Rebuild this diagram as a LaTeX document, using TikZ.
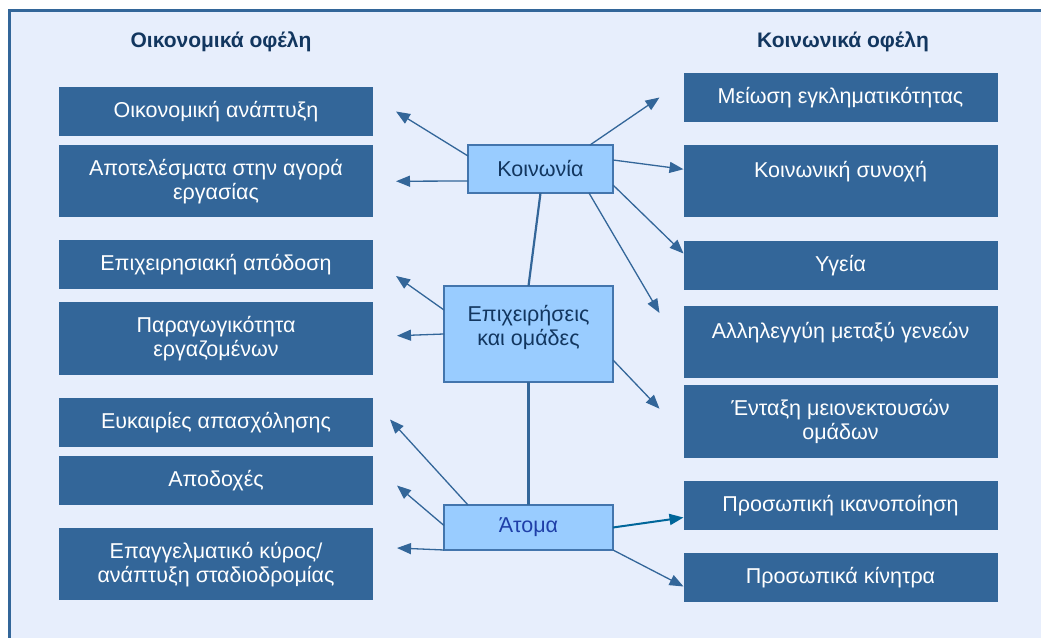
\documentclass[tikz,border=0pt]{standalone}
\usepackage{fontspec}
\setmainfont{Liberation Sans}
\usetikzlibrary{positioning,arrows.meta}
\definecolor{boxblue}{HTML}{336699}
\definecolor{hubfill}{HTML}{99CCFF}
\definecolor{hubline}{HTML}{4375AD}
\definecolor{bgblue}{HTML}{E7EEFC}
\definecolor{navy}{HTML}{12365F}
\definecolor{atomtext}{HTML}{1F3FA8}
\definecolor{arrowteal}{HTML}{00669A}

\begin{document}
\begin{tikzpicture}[x=1pt,y=1pt,
	outcome/.style={fill=boxblue, text=white, minimum width=314pt, minimum height=49pt,
		align=center, inner sep=0pt, outer sep=0pt, font=\fontsize{21.5}{24}\selectfont},
	outcome2/.style={outcome, minimum height=72.5pt},
	hub/.style={draw=hubline, line width=1.6pt, fill=hubfill, text=navy, align=center,
		inner sep=0pt, outer sep=0pt, font=\fontsize{21.5}{24}\selectfont},
	link/.style={draw=boxblue, line width=1.3pt, -{Triangle[length=14pt,width=11pt]}},
	spine/.style={draw=boxblue, line width=2.2pt},
	heading/.style={text=navy, font=\bfseries\fontsize{21}{24}\selectfont}]
	\clip (0,0) rectangle (1041,637);
	\fill[white] (0,0) rectangle (1041,637);
	\filldraw[fill=bgblue, draw=boxblue, line width=3.5pt] (9.5,626.5) rectangle (1080,-40);

	\node[heading] (econ) at (221,595) {Οικονομικά οφέλη};
	\node[heading] (soc) at (843,595) {Κοινωνικά οφέλη};

	\node[outcome, anchor=north west] (l1) at (59,550) {Οικονομική ανάπτυξη};
	\node[outcome2, below=9pt of l1] (l2) {Αποτελέσματα στην αγορά\\εργασίας};
	\node[outcome, below=23pt of l2] (l3) {Επιχειρησιακή απόδοση};
	\node[outcome2, below=13pt of l3] (l4) {Παραγωγικότητα\\εργαζομένων};
	\node[outcome, below=23pt of l4] (l5) {Ευκαιρίες απασχόλησης};
	\node[outcome, below=9pt of l5] (l6) {Αποδοχές};
	\node[outcome2, below=23pt of l6] (l7) {Επαγγελματικό κύρος/\\ανάπτυξη σταδιοδρομίας};

	\node[outcome, anchor=north west] (r1) at (683.5,564) {Μείωση εγκληματικότητας};
	\node[outcome2, below=23pt of r1] (r2) {Κοινωνική συνοχή\\~};
	\node[outcome, below=23.5pt of r2] (r3) {Υγεία};
	\node[outcome2, below=16pt of r3] (r4) {Αλληλεγγύη μεταξύ γενεών\\~};
	\node[outcome2, below=7pt of r4] (r5) {Ένταξη μειονεκτουσών\\ομάδων};
	\node[outcome, below=23pt of r5] (r6) {Προσωπική ικανοποίηση};
	\node[outcome, below=23pt of r6] (r7) {Προσωπικά κίνητρα};

	\node[hub, minimum width=145pt, minimum height=48pt] (koin) at (540.5,468) {Κοινωνία};
	\node[hub, minimum width=169pt, minimum height=96pt] (epix) at (528.5,303) {Επιχειρήσεις\\και ομάδες\\[-6pt]~};
	\node[hub, minimum width=169pt, minimum height=45pt, text=atomtext] (atom) at (528.5,109.5) {Άτομα};

	\draw[spine] (koin.south) -- (epix.north);
	\draw[spine] (epix.south) -- (atom.north);

	\draw[link] ([yshift=-11pt]koin.north west) -- ([xshift=23pt]l1.east);
	\draw[link] ([yshift=-12pt]koin.west) -- ([xshift=23pt]l2.east);
	\draw[link] ([xshift=-23pt]koin.north east) -- ([xshift=-24pt]r1.west);
	\draw[link] ([yshift=9pt]koin.east) -- ([yshift=12pt]r2.west);
	\draw[link] ([yshift=8pt]koin.south east) -- ([yshift=12pt]r3.west);
	\draw[link] ([xshift=-24pt]koin.south east) -- ([xshift=-24pt,yshift=-7pt]r4.north west);

	\draw[link] ([yshift=-24pt]epix.north west) -- ([xshift=23pt,yshift=-11pt]l3.east);
	\draw[link] (epix.west) -- ([xshift=24pt,yshift=3pt]l4.east);
	\draw[link] ([yshift=-26pt]epix.east) -- ([xshift=-24pt,yshift=13pt]r5.west);

	\draw[link] ([xshift=24pt]atom.north west) -- ([xshift=17pt,yshift=3pt]l5.east);
	\draw[link] ([yshift=2pt]atom.west) -- ([xshift=24pt,yshift=-5pt]l6.east);
	\draw[link] (atom.south west) -- ([xshift=24pt,yshift=-20pt]l7.north east);
	\draw[link, draw=arrowteal, line width=2pt] (atom.east) -- ([yshift=-12pt]r6.west);
	\draw[link] (atom.south east) -- ([yshift=-9pt]r7.west);
\end{tikzpicture}
\end{document}
